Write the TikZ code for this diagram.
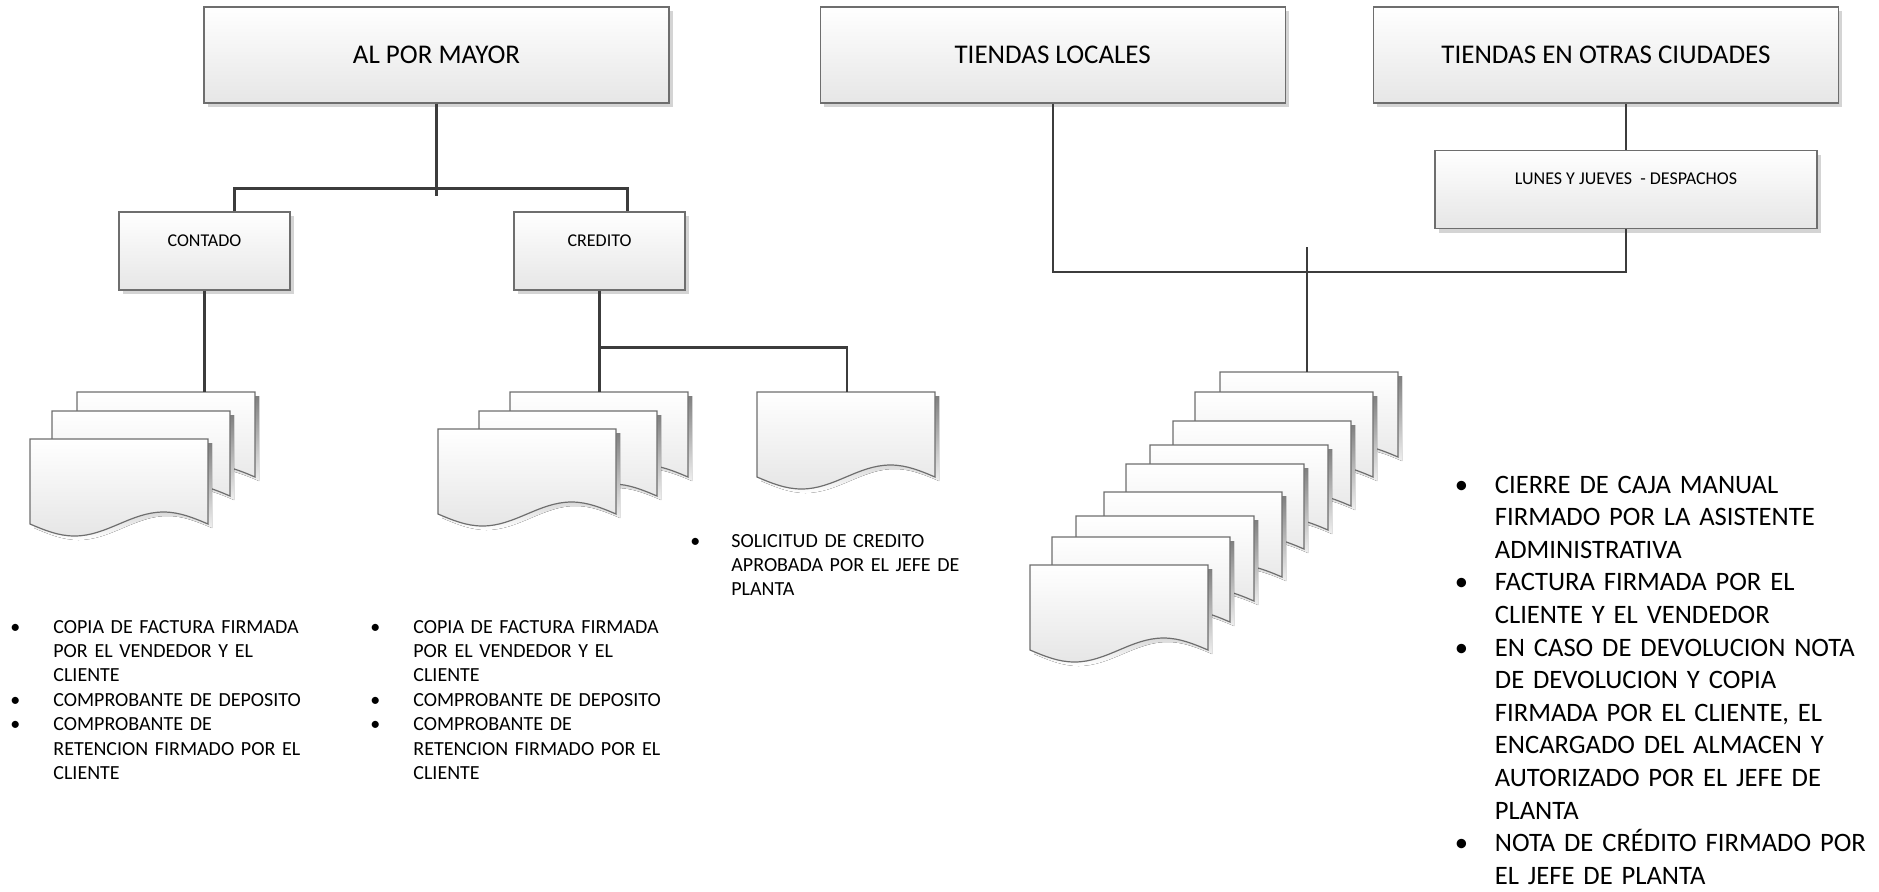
\documentclass[tikz,border=0pt]{standalone}
\usepackage{fontspec}
\setmainfont{Carlito}
\usepackage{tikz}
\usetikzlibrary{positioning,shadows}
\definecolor{edge}{HTML}{6E6E6E}
\definecolor{linecol}{HTML}{3C3C3C}
\definecolor{fade}{HTML}{E6E6E6}
\definecolor{shade}{HTML}{D4D4D4}

% one paper sheet with a wavy lower edge, top left corner at #1,#2 (px)
\newcommand{\docsheet}[2]{%
  \fill[shade] (#1+4,#2+4) -- ++(178,0) -- ++(0,85)
    sin ++(-44.5,-12) cos ++(-44.5,12) sin ++(-44.5,12) cos ++(-44.5,-12) -- cycle;
  \draw[draw=edge, line width=0.6pt, top color=white, bottom color=fade]
    (#1,#2) -- ++(178,0) -- ++(0,85)
    sin ++(-44.5,-12) cos ++(-44.5,12) sin ++(-44.5,12) cos ++(-44.5,-12) -- cycle;}
% bullet paragraph with hanging indent
\newcommand{\bitem}[2]{\noindent\hangindent=#1\hangafter=1\makebox[#1][l]{\textbullet}#2\par}

\begin{document}
\begin{tikzpicture}[x=0.5pt, y=-0.5pt,
  head/.style={draw=edge, line width=0.6pt, top color=white, bottom color=fade,
               drop shadow={shadow xshift=2pt, shadow yshift=-2pt, fill=shade, opacity=1},
               minimum width=232.5pt, minimum height=48pt,
               font=\fontsize{13.5}{16}\selectfont},
  sub/.style={draw=edge, line width=0.6pt, top color=white, bottom color=fade,
              drop shadow={shadow xshift=2pt, shadow yshift=-2pt, fill=shade, opacity=1},
              minimum width=85.5pt, inner sep=0pt, text height=17pt, text depth=22pt,
              font=\fontsize{9}{11}\selectfont},
  link/.style={draw=linecol, line width=1.2pt},
  notes/.style={anchor=base west, inner sep=0pt, align=left, text width=160pt,
                font=\fontsize{10}{12.2}\selectfont},
  bignotes/.style={notes, text width=240pt, font=\fontsize{13.3}{16.3}\selectfont}]
\useasboundingbox (0,0) rectangle (1879,891);

% top level
\node[head] (mayor) at (436.5,55) {AL POR MAYOR};
\node[head, right=75pt of mayor] (locales) {TIENDAS LOCALES};
\node[head, right=43.5pt of locales] (otras) {TIENDAS EN OTRAS CIUDADES};

% second level
\node[sub] (contado) at (204.5,251) {CONTADO};
\node[sub] (credito) at (599.5,251) {CREDITO};
\node[sub, minimum width=191pt] (lunes) at (1626,189.5) {LUNES Y JUEVES \ - DESPACHOS};

% document stacks
\coordinate (cdoc) at (204.5,392);
\coordinate (crdoc) at (599.5,392);
\coordinate (soldoc) at (847,392);
\coordinate (join) at (1307,272);
\coordinate (tdoc) at (1307,372);

\docsheet{77}{392}
\docsheet{52}{411}
\docsheet{30}{439}

\docsheet{510}{392}
\docsheet{479}{411}
\docsheet{438}{429}

\docsheet{757}{392}

\foreach \x/\y in {1220/372, 1195/392, 1173/421, 1150/445, 1126/464,
                   1104/492, 1076/516, 1052/537, 1030/565}
  \docsheet{\x}{\y};

% connectors
\draw[link] (mayor.south) -- ++(0,92);
\draw[link] ([xshift=15pt]contado.north) -- ++(0,-23) -| ([xshift=14pt]credito.north);
\draw[link] (contado.south) -- (cdoc);
\draw[link] (credito.south) -- (crdoc);
\draw[link] (credito.south) ++(0,57) -| (soldoc);
\draw[link] (lunes.north) -- (lunes.north |- otras.south);
\draw[link] (locales.south) |- (lunes.south |- join) -- (lunes.south);
\draw[link] (join) ++(0,-25) -- (tdoc);

% notes
\node[notes] (ncont) at (10,633) {%
  \bitem{21.5pt}{COPIA DE FACTURA FIRMADA\newline POR EL VENDEDOR Y EL\newline CLIENTE}
  \bitem{21.5pt}{COMPROBANTE DE DEPOSITO}
  \bitem{21.5pt}{COMPROBANTE DE\newline RETENCION FIRMADO POR EL\newline CLIENTE}};
\node[notes] (ncred) at (370,633) {%
  \bitem{21.5pt}{COPIA DE FACTURA FIRMADA\newline POR EL VENDEDOR Y EL\newline CLIENTE}
  \bitem{21.5pt}{COMPROBANTE DE DEPOSITO}
  \bitem{21.5pt}{COMPROBANTE DE\newline RETENCION FIRMADO POR EL\newline CLIENTE}};
\node[notes] (nsol) at (690,547) {%
  \bitem{20.5pt}{SOLICITUD DE CREDITO\newline APROBADA POR EL JEFE DE\newline PLANTA}};
\node[bignotes] (ntiendas) at (1454.5,493) {%
  \bitem{20pt}{CIERRE DE CAJA MANUAL\newline FIRMADO POR LA ASISTENTE\newline ADMINISTRATIVA}
  \bitem{20pt}{FACTURA FIRMADA POR EL\newline CLIENTE Y EL VENDEDOR}
  \bitem{20pt}{EN CASO DE DEVOLUCION NOTA\newline DE DEVOLUCION Y COPIA\newline FIRMADA POR EL CLIENTE, EL\newline ENCARGADO DEL ALMACEN Y\newline AUTORIZADO POR EL JEFE DE\newline PLANTA}
  \bitem{20pt}{NOTA DE CRÉDITO FIRMADO POR\newline EL JEFE DE PLANTA}};
\end{tikzpicture}
\end{document}
